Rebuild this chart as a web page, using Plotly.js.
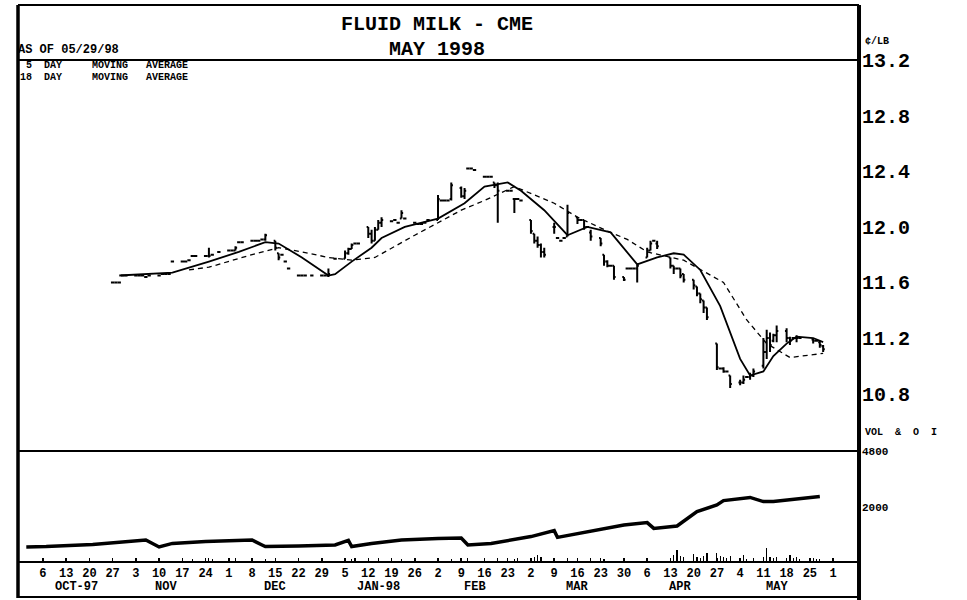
<!DOCTYPE html>
<html>
<head>
<meta charset="utf-8">
<script src="https://cdn.plot.ly/plotly-3.0.1.min.js"></script>
<style>html,body{margin:0;padding:0;background:#fff;}#chart{width:967px;height:600px;}</style>
</head>
<body>
<div id="chart"></div>
<script>
// ---------- DATA ----------
const priceDates = [
 '1997-10-27','1997-10-28','1997-10-29','1997-10-30','1997-10-31',
 '1997-11-03','1997-11-04','1997-11-05','1997-11-06','1997-11-07','1997-11-10','1997-11-11','1997-11-12','1997-11-13','1997-11-14','1997-11-17','1997-11-18','1997-11-19','1997-11-20','1997-11-21','1997-11-24','1997-11-25','1997-11-26','1997-11-28',
 '1997-12-01','1997-12-02','1997-12-03','1997-12-04','1997-12-05','1997-12-08','1997-12-09','1997-12-10','1997-12-11','1997-12-12','1997-12-15','1997-12-16','1997-12-17','1997-12-18','1997-12-19','1997-12-22','1997-12-23','1997-12-24','1997-12-26','1997-12-29','1997-12-30','1997-12-31',
 '1998-01-02','1998-01-05','1998-01-06','1998-01-07','1998-01-08','1998-01-09','1998-01-12','1998-01-13','1998-01-14','1998-01-15','1998-01-16','1998-01-19','1998-01-20','1998-01-21','1998-01-22','1998-01-23','1998-01-26','1998-01-27','1998-01-28','1998-01-29','1998-01-30',
 '1998-02-02','1998-02-03','1998-02-04','1998-02-05','1998-02-06','1998-02-09','1998-02-10','1998-02-11','1998-02-12','1998-02-13','1998-02-16','1998-02-17','1998-02-18','1998-02-19','1998-02-20','1998-02-23','1998-02-24','1998-02-25','1998-02-26','1998-02-27',
 '1998-03-02','1998-03-03','1998-03-04','1998-03-05','1998-03-06','1998-03-09','1998-03-10','1998-03-11','1998-03-12','1998-03-13','1998-03-16','1998-03-17','1998-03-18','1998-03-19','1998-03-20','1998-03-23','1998-03-24','1998-03-25','1998-03-26','1998-03-27','1998-03-30','1998-03-31',
 '1998-04-01','1998-04-02','1998-04-03','1998-04-06','1998-04-07','1998-04-08','1998-04-09','1998-04-13','1998-04-14','1998-04-15','1998-04-16','1998-04-17','1998-04-20','1998-04-21','1998-04-22','1998-04-23','1998-04-24','1998-04-27','1998-04-28','1998-04-29','1998-04-30',
 '1998-05-01','1998-05-04','1998-05-05','1998-05-06','1998-05-07','1998-05-08','1998-05-11','1998-05-12','1998-05-13','1998-05-14','1998-05-15','1998-05-18','1998-05-19','1998-05-20','1998-05-21','1998-05-22','1998-05-26','1998-05-27','1998-05-28','1998-05-29'
];
const priceOpen = [
 11.60,11.60,11.60,11.65,11.65,
 11.65,11.65,11.65,11.64,11.65,11.65,11.66,11.66,11.66,11.75,11.75,11.75,11.76,11.79,11.79,11.79,11.79,11.80,11.82,
 11.83,11.83,11.83,11.89,11.89,11.90,11.90,11.90,11.91,11.91,11.90,11.81,11.80,11.75,11.70,11.65,11.65,11.65,11.65,11.65,11.65,11.65,
 11.77,11.77,11.81,11.84,11.88,11.88,12.00,11.95,11.90,11.98,12.03,12.04,12.05,12.03,12.06,12.06,12.03,12.02,12.02,12.03,12.05,
 12.05,12.19,12.19,12.19,12.20,12.28,12.22,12.42,12.42,12.41,12.36,12.36,12.36,12.32,12.30,12.26,12.26,12.20,12.20,12.19,
 12.05,11.95,11.90,11.87,11.82,12.00,11.92,11.90,11.92,11.93,12.07,12.05,12.05,12.00,11.96,11.92,11.80,11.75,11.72,11.72,11.64,11.70,
 11.70,11.70,11.70,11.78,11.83,11.90,11.88,11.78,11.72,11.70,11.70,11.66,11.62,11.57,11.52,11.47,11.42,11.16,10.98,10.98,10.96,
 10.93,10.88,10.88,10.92,10.92,10.93,11.00,11.10,11.20,11.18,11.22,11.25,11.20,11.20,11.20,11.20,11.19,11.18,11.17,11.14
];
const priceHigh = [
 11.60,11.60,11.60,11.65,11.65,
 11.65,11.65,11.65,11.64,11.65,11.65,11.66,11.66,11.66,11.75,11.75,11.75,11.76,11.79,11.79,11.79,11.85,11.80,11.82,
 11.83,11.83,11.86,11.89,11.89,11.90,11.90,11.90,11.91,11.95,11.90,11.81,11.80,11.75,11.70,11.65,11.65,11.65,11.65,11.65,11.65,11.70,
 11.77,11.83,11.85,11.88,11.88,11.88,12.00,11.98,12.00,12.05,12.07,12.04,12.05,12.03,12.12,12.06,12.03,12.02,12.02,12.03,12.05,
 12.23,12.19,12.19,12.19,12.32,12.29,12.28,12.42,12.42,12.41,12.36,12.36,12.36,12.32,12.32,12.26,12.26,12.20,12.20,12.19,
 12.05,11.95,11.93,11.88,11.85,12.03,11.92,11.90,11.92,12.16,12.07,12.05,12.05,12.00,11.98,11.92,11.80,11.76,11.72,11.72,11.64,11.70,
 11.70,11.70,11.73,11.85,11.90,11.90,11.90,11.78,11.72,11.70,11.70,11.66,11.62,11.57,11.52,11.47,11.42,11.16,10.98,10.99,10.96,
 10.93,10.90,10.93,10.92,10.95,10.98,11.20,11.26,11.24,11.23,11.29,11.27,11.21,11.20,11.22,11.20,11.20,11.18,11.18,11.15
];
const priceLow = [
 11.60,11.60,11.60,11.65,11.65,
 11.65,11.65,11.65,11.64,11.65,11.65,11.66,11.66,11.66,11.75,11.75,11.75,11.76,11.79,11.79,11.79,11.78,11.80,11.82,
 11.83,11.83,11.83,11.89,11.89,11.90,11.90,11.90,11.91,11.90,11.83,11.76,11.80,11.75,11.70,11.65,11.65,11.65,11.65,11.65,11.65,11.64,
 11.77,11.77,11.80,11.84,11.88,11.88,11.92,11.88,11.90,11.98,12.00,12.04,12.05,12.03,12.06,12.06,12.03,12.02,12.02,12.03,12.05,
 12.05,12.19,12.19,12.19,12.19,12.21,12.20,12.42,12.42,12.41,12.36,12.36,12.36,12.28,12.03,12.26,12.26,12.10,12.20,12.19,
 11.95,11.88,11.85,11.78,11.78,11.95,11.92,11.90,11.92,11.93,12.02,12.05,11.98,12.00,11.90,11.86,11.72,11.71,11.72,11.62,11.61,11.70,
 11.70,11.70,11.60,11.78,11.83,11.90,11.84,11.70,11.66,11.70,11.63,11.60,11.55,11.50,11.45,11.38,11.33,10.97,10.98,10.95,10.96,
 10.84,10.86,10.87,10.92,10.90,10.92,10.98,11.05,11.10,11.17,11.17,11.17,11.15,11.20,11.17,11.20,11.16,11.18,11.13,11.10
];
const priceClose = [
 11.60,11.60,11.60,11.65,11.65,
 11.65,11.65,11.65,11.64,11.65,11.65,11.66,11.66,11.66,11.75,11.75,11.75,11.76,11.79,11.79,11.79,11.79,11.80,11.82,
 11.83,11.83,11.85,11.89,11.89,11.90,11.90,11.90,11.91,11.94,11.85,11.78,11.80,11.75,11.70,11.65,11.65,11.65,11.65,11.65,11.65,11.66,
 11.77,11.81,11.84,11.87,11.88,11.88,11.95,11.90,11.98,12.03,12.05,12.04,12.05,12.03,12.10,12.06,12.03,12.02,12.02,12.03,12.05,
 12.20,12.19,12.19,12.19,12.30,12.22,12.26,12.42,12.42,12.41,12.36,12.36,12.36,12.30,12.26,12.26,12.26,12.20,12.20,12.19,
 11.97,11.90,11.87,11.82,11.80,12.00,11.92,11.90,11.92,12.10,12.05,12.05,12.00,12.00,11.93,11.88,11.75,11.72,11.72,11.64,11.62,11.70,
 11.70,11.70,11.72,11.83,11.88,11.90,11.86,11.72,11.70,11.70,11.65,11.62,11.58,11.52,11.48,11.42,11.35,10.99,10.98,10.96,10.96,
 10.87,10.88,10.90,10.92,10.93,10.96,11.10,11.20,11.15,11.22,11.25,11.20,11.18,11.20,11.20,11.20,11.18,11.18,11.15,11.12
];

// 5 day moving average (solid)
const ma5Dates = ['1997-10-29','1997-11-14','1997-11-25','1997-12-04','1997-12-12','1997-12-16','1997-12-23','1997-12-31','1998-01-02','1998-01-07','1998-01-13','1998-01-16','1998-01-23','1998-02-02','1998-02-10','1998-02-16','1998-02-23','1998-02-27','1998-03-06','1998-03-13','1998-03-19','1998-03-26','1998-04-03','1998-04-09','1998-04-14','1998-04-17','1998-04-22','1998-04-28','1998-05-04','1998-05-07','1998-05-11','1998-05-14','1998-05-18','1998-05-21','1998-05-26','1998-05-29'];
const ma5Values = [11.65,11.67,11.75,11.82,11.89,11.88,11.78,11.65,11.66,11.75,11.85,11.92,12.00,12.06,12.17,12.29,12.32,12.26,12.12,11.94,12.00,11.96,11.73,11.78,11.81,11.80,11.69,11.43,11.05,10.93,10.96,11.07,11.16,11.21,11.20,11.17];

// 18 day moving average (dashed)
const ma18Dates = ['1997-11-19','1997-11-25','1997-12-08','1997-12-16','1997-12-23','1997-12-31','1998-01-07','1998-01-14','1998-01-26','1998-02-09','1998-02-16','1998-02-25','1998-03-09','1998-03-16','1998-03-25','1998-03-31','1998-04-06','1998-04-17','1998-04-29','1998-05-06','1998-05-12','1998-05-19','1998-05-26','1998-05-29'];
const ma18Values = [11.69,11.71,11.80,11.85,11.82,11.78,11.76,11.78,11.94,12.12,12.19,12.29,12.17,12.07,11.97,11.91,11.82,11.76,11.60,11.33,11.16,11.06,11.08,11.09];

// daily volume (contracts)
const volDates = ['1997-11-20','1997-11-25','1997-11-26','1997-12-01','1997-12-03','1997-12-12','1998-01-07','1998-01-08','1998-01-12','1998-01-15','1998-01-22','1998-02-02','1998-02-06','1998-02-11','1998-02-20','1998-02-25','1998-02-26','1998-03-02','1998-03-03','1998-03-04','1998-03-05','1998-03-09','1998-03-13','1998-03-20','1998-03-24','1998-04-06','1998-04-13','1998-04-14','1998-04-15','1998-04-16','1998-04-17','1998-04-20','1998-04-21','1998-04-22','1998-04-23','1998-04-24','1998-04-27','1998-04-28','1998-04-29','1998-04-30','1998-05-01','1998-05-04','1998-05-05','1998-05-06','1998-05-08','1998-05-11','1998-05-12','1998-05-13','1998-05-14','1998-05-15','1998-05-18','1998-05-19','1998-05-20','1998-05-21','1998-05-22','1998-05-26','1998-05-27','1998-05-28'];
const volValues = [20,30,20,20,30,20,20,30,20,30,20,20,20,30,30,20,30,30,40,60,40,20,30,30,20,20,30,60,110,50,40,70,40,30,50,80,80,50,40,30,50,30,60,20,30,40,130,40,30,40,30,60,30,40,20,30,20,20];

// open interest (read on the VOL & O I scale)
const oiDates = ['1997-10-01','1997-10-07','1997-10-21','1997-10-28','1997-11-06','1997-11-10','1997-11-14','1997-11-24','1997-12-02','1997-12-08','1997-12-11','1997-12-12','1997-12-22','1998-01-02','1998-01-06','1998-01-07','1998-01-13','1998-01-22','1998-02-02','1998-02-09','1998-02-11','1998-02-18','1998-03-02','1998-03-09','1998-03-10','1998-03-19','1998-03-30','1998-04-06','1998-04-08','1998-04-15','1998-04-21','1998-04-27','1998-04-29','1998-05-07','1998-05-11','1998-05-14','1998-05-26','1998-05-28'];
const oiValues = [0,20,130,220,350,0,180,270,300,350,100,20,50,100,330,20,180,350,430,450,100,180,520,820,480,770,1100,1220,930,1050,1770,2100,2320,2480,2270,2270,2520,2530];

// axis tick labels
const weekTicks = ['1997-10-06','1997-10-13','1997-10-20','1997-10-27','1997-11-03','1997-11-10','1997-11-17','1997-11-24','1997-12-01','1997-12-08','1997-12-15','1997-12-22','1997-12-29','1998-01-05','1998-01-12','1998-01-19','1998-01-26','1998-02-02','1998-02-09','1998-02-16','1998-02-23','1998-03-02','1998-03-09','1998-03-16','1998-03-23','1998-03-30','1998-04-06','1998-04-13','1998-04-20','1998-04-27','1998-05-04','1998-05-11','1998-05-18','1998-05-25','1998-06-01'];
const weekLabels = ['6','13','20','27','3','10','17','24','1','8','15','22','29','5','12','19','26','2','9','16','23','2','9','16','23','30','6','13','20','27','4','11','18','25','1'];
const monthLabels = ['OCT-97','NOV','DEC','JAN-98','FEB','MAR','APR','MAY'];
const monthLabelDates = ['1997-10-16','1997-11-12','1997-12-15','1998-01-15','1998-02-13','1998-03-16','1998-04-16','1998-05-15'];
const priceTicks = [10.8,11.2,11.6,12.0,12.4,12.8,13.2];
const volTicks = [2000,4800];

// ---------- CHART ----------
const FONT = 'Liberation Mono, Courier New, monospace';
const xRange = ['1997-09-28 12:00','1998-06-08 12:00'];
const NB = '\u00a0';
const sp = n => NB.repeat(n);

const traces = [
  {type:'ohlc', x:priceDates, open:priceOpen, high:priceHigh, low:priceLow, close:priceClose,
   xaxis:'x2', yaxis:'y', tickwidth:0.5,
   increasing:{line:{color:'#000',width:2}}, decreasing:{line:{color:'#000',width:2}},
   hoverinfo:'skip', showlegend:false},
  {type:'scatter', mode:'lines', x:ma5Dates, y:ma5Values, xaxis:'x2', yaxis:'y',
   line:{color:'#000', width:1.8}, hoverinfo:'skip', showlegend:false},
  {type:'scatter', mode:'lines', x:ma18Dates, y:ma18Values, xaxis:'x2', yaxis:'y',
   line:{color:'#000', width:1.3, dash:'5px,4px'}, hoverinfo:'skip', showlegend:false},
  {type:'bar', x:volDates, y:volValues, xaxis:'x', yaxis:'y3', width:30240000,
   marker:{color:'#000', line:{width:0}}, hoverinfo:'skip', showlegend:false},
  {type:'scatter', mode:'lines', x:oiDates, y:oiValues, xaxis:'x', yaxis:'y2',
   line:{color:'#000', width:3.5}, hoverinfo:'skip', showlegend:false}
];

const split = 110/501;
const py = p => (561 - p)/501;

const annFont = (s) => ({family:FONT, size:s, color:'#000', weight:'bold'});
const annotations = [
  {text:'FLUID MILK - CME', xref:'paper', yref:'paper', x:0.4994, y:py(25), xanchor:'center', yanchor:'middle', showarrow:false, font:annFont(20)},
  {text:'MAY 1998', xref:'paper', yref:'paper', x:0.4994, y:py(49), xanchor:'center', yanchor:'middle', showarrow:false, font:annFont(20)},
  {text:'AS OF 05/29/98', xref:'paper', yref:'paper', x:-0.002, y:py(50), xanchor:'left', yanchor:'middle', showarrow:false, font:annFont(12)},
  {text:sp(1)+'5'+sp(2)+'DAY'+sp(5)+'MOVING'+sp(3)+'AVERAGE', xref:'paper', yref:'paper', x:0.0005, y:py(66), xanchor:'left', yanchor:'middle', showarrow:false, font:annFont(10)},
  {text:'18'+sp(2)+'DAY'+sp(5)+'MOVING'+sp(3)+'AVERAGE', xref:'paper', yref:'paper', x:0.0005, y:py(77), xanchor:'left', yanchor:'middle', showarrow:false, font:annFont(10)},
  {text:'\u00a2/LB', xref:'paper', yref:'paper', x:1.006, y:py(41), xanchor:'left', yanchor:'middle', showarrow:false, font:annFont(10)},
  {text:'VOL'+sp(2)+'&amp;'+sp(2)+'O'+sp(2)+'I', xref:'paper', yref:'paper', x:1.006, y:py(432), xanchor:'left', yanchor:'middle', showarrow:false, font:annFont(10)}
];
monthLabels.forEach((m,i) => annotations.push({
  text:m, xref:'x', yref:'paper', x:monthLabelDates[i], y:py(587), xanchor:'center', yanchor:'middle',
  showarrow:false, font:annFont(12)
}));

const ln = (x0,y0,x1,y1,w) => ({type:'line', xref:'paper', yref:'paper', x0:x0, y0:y0, x1:x1, y1:y1, line:{color:'#000', width:w}});
const shapes = [
  ln(0, py(5), 1.0012, py(5), 2),
  ln(0, py(5), 0, py(598), 3.5),
  ln(1.0012, py(5), 1.0012, py(600), 4),
  ln(0, py(597), 1.0012, py(597), 2),
  ln(0, 1, 1.0012, 1, 2),
  ln(0, split, 1.0012, split, 2)
];

const layout = {
  width:967, height:600, autosize:false,
  margin:{l:18, r:109, t:60, b:39, pad:0},
  paper_bgcolor:'#fff', plot_bgcolor:'#fff',
  font:{family:FONT, color:'#000', weight:'bold'},
  showlegend:false, hovermode:false, bargap:0,
  xaxis:{type:'date', range:xRange, anchor:'y2', domain:[0,1],
    tickmode:'array', tickvals:weekTicks, ticktext:weekLabels, tickangle:0,
    tickfont:{family:FONT, size:12, color:'#000', weight:'bold'},
    ticks:'inside', ticklen:3, tickwidth:1.5, tickcolor:'#000',
    showline:true, linecolor:'#000', linewidth:2, showgrid:false, zeroline:false,
    rangeslider:{visible:false}, fixedrange:true},
  xaxis2:{type:'date', range:xRange, anchor:'y', domain:[0,1], showticklabels:false, ticks:'',
    showline:false, showgrid:false, zeroline:false, rangeslider:{visible:false}, fixedrange:true},
  yaxis:{domain:[split,1], range:[10.387,13.201], side:'right', anchor:'x2',
    tickmode:'array', tickvals:priceTicks, tickformat:'.1f', ticks:'', ticklabelstandoff:3,
    tickfont:{family:FONT, size:20, color:'#000', weight:'bold'},
    showline:false, showgrid:false, zeroline:false, fixedrange:true},
  yaxis2:{domain:[0,split], range:[-700,4801], side:'right', anchor:'x',
    tickmode:'array', tickvals:volTicks, ticks:'', ticklabelstandoff:3,
    tickfont:{family:FONT, size:11, color:'#000', weight:'bold'},
    showline:false, showgrid:false, zeroline:false, fixedrange:true},
  yaxis3:{overlaying:'y2', range:[0,1100], visible:false, side:'right', anchor:'x', fixedrange:true},
  annotations:annotations,
  shapes:shapes
};

Plotly.newPlot('chart', traces, layout, {displayModeBar:false, staticPlot:true});
</script>
</body>
</html>
